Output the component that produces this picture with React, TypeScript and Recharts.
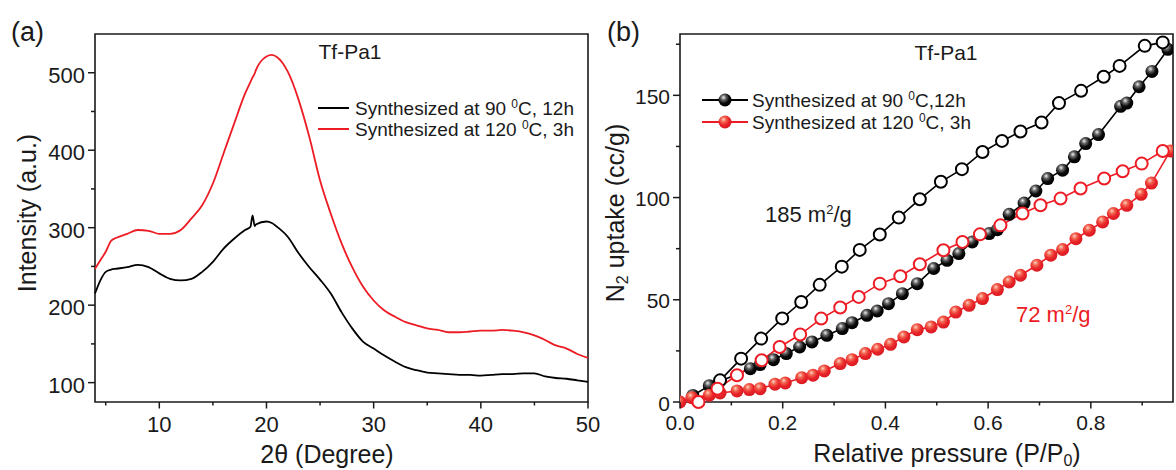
import React from "react";
import { LineChart, Line, XAxis, YAxis, ReferenceArea } from "recharts";

// (a) PXRD patterns of Tf-Pa1
const twoTheta = [
  4, 4.5, 5, 5.5, 6, 7, 8, 9, 10, 11, 12, 13, 14, 15, 16, 17, 18, 18.5, 18.7, 18.9, 19, 20, 20.5, 21, 22,
  23, 24, 25, 26, 27, 28, 29, 30, 31, 32, 33, 34, 35, 36, 37, 38, 39, 40, 41, 42, 43, 44, 45, 46, 47, 48,
  49, 50,
];
const xrd90 = [
  215, 232, 243, 246, 247, 249, 252, 249, 241, 234, 232, 234, 243, 256, 273, 286, 297, 301, 316, 302, 304,
  308, 306, 301, 288, 267, 249, 233, 215, 191, 170, 153, 144, 135, 127, 120, 116, 113, 112, 111, 110, 110,
  109, 110, 111, 111, 112, 112, 108, 106, 105, 103, 101,
];
const xrd120 = [
  247, 258, 269, 283, 287, 292, 297, 296, 292, 292, 297, 312, 329, 357, 396, 435, 473, 488, 494, 499, 503,
  521, 523, 520, 501, 465, 417, 361, 318, 280, 249, 224, 206, 193, 185, 178, 174, 170, 168, 165, 165, 166,
  167, 167, 168, 167, 165, 161, 155, 148, 144, 137, 132,
];
const xrdXTicks = [5, 10, 15, 20, 25, 30, 35, 40, 45, 50];
const xrdYTicks = [100, 150, 200, 250, 300, 350, 400, 450, 500];

// (b) N2 sorption isotherms, adsorption (filled) and desorption (open)
const ads90P = [
  0.025, 0.057, 0.137, 0.156, 0.182, 0.207, 0.233, 0.257, 0.286, 0.316, 0.335, 0.364, 0.384, 0.406, 0.433,
  0.462, 0.494, 0.52, 0.543, 0.569, 0.602, 0.618, 0.641, 0.67, 0.693, 0.716, 0.745, 0.768, 0.79, 0.815, 0.858,
  0.87, 0.894, 0.919, 0.95,
];
const ads90N = [
  3.2, 8.0, 16.3, 18.3, 20.7, 23.7, 26.9, 29.4, 32.6, 35.9, 38.8, 42.4, 44.5, 48.1, 53.0, 57.9, 65.3, 69.3,
  72.6, 78.3, 82.4, 84.3, 91.8, 97.3, 103.2, 109.3, 113.4, 119.9, 126.4, 130.8, 144.6, 146.2, 154.2, 161.7,
  172.5,
];
const des90P = [
  0.078, 0.119, 0.158, 0.199, 0.236, 0.272, 0.315, 0.35, 0.389, 0.426, 0.467, 0.508, 0.549, 0.589, 0.627,
  0.663, 0.704, 0.738, 0.781, 0.825, 0.856, 0.905, 0.94,
];
const des90N = [
  10.6, 21.2, 31.0, 40.9, 48.9, 57.3, 66.2, 74.4, 81.9, 90.2, 99.2, 107.7, 113.9, 122.3, 127.7, 132.3, 136.7,
  146.2, 152.2, 159.1, 164.4, 174.2, 175.9,
];
const ads120P = [
  0, 0.023, 0.057, 0.078, 0.111, 0.135, 0.156, 0.185, 0.205, 0.237, 0.259, 0.281, 0.312, 0.335, 0.361, 0.385,
  0.41, 0.436, 0.462, 0.489, 0.513, 0.537, 0.563, 0.589, 0.618, 0.641, 0.663, 0.695, 0.722, 0.745, 0.771,
  0.797, 0.823, 0.844, 0.87, 0.898, 0.918, 0.955,
];
const ads120N = [
  0, 2.1, 3.3, 4.4, 5.4, 6.1, 6.5, 8.7, 9.3, 11.9, 13.1, 15.2, 18.8, 20.7, 23.7, 25.8, 28.2, 31.8, 35.4, 36.7,
  39.1, 44.0, 47.3, 50.6, 55.0, 58.7, 62.0, 66.9, 71.8, 74.6, 79.9, 84.0, 88.1, 92.2, 96.2, 101.6, 107.1,
  122.8,
];
const des120P = [
  0.036, 0.073, 0.111, 0.159, 0.194, 0.234, 0.275, 0.312, 0.348, 0.389, 0.429, 0.467, 0.513, 0.55, 0.584,
  0.624, 0.667, 0.702, 0.741, 0.78, 0.826, 0.862, 0.899, 0.94,
];
const des120N = [
  0, 6.5, 13.1, 20.4, 26.9, 33.0, 40.8, 46.2, 51.4, 57.9, 61.5, 67.4, 74.2, 78.3, 82.0, 86.4, 92.2, 96.2,
  99.5, 104.4, 109.3, 112.9, 116.6, 122.8,
];
const isoXTicks = [0, 0.1, 0.2, 0.3, 0.4, 0.5, 0.6, 0.7, 0.8, 0.9];
const isoYTicks = [0, 25, 50, 75, 100, 125, 150, 175];

const FONT = "'Liberation Sans', Arial, sans-serif";
const RED = "#ed1c24";
const INK = "#1a1a1a";

const xrdData = twoTheta.map((t, i) => ({ t, a: xrd90[i], b: xrd120[i] }));
const pairs = (p: number[], n: number[]) => p.map((x, i) => ({ x, y: n[i] }));

// tick renderers: draw the tick mark ourselves so minor ticks can be shorter and unlabeled
const bottomTick =
  (isMajor: (v: number) => boolean, fmt: (v: number) => string, fontSize: number, dy: number) =>
  (props: any) => {
    const { x, y, payload } = props;
    const major = isMajor(payload.value);
    return (
      <g key={`xt-${payload.value}`}>
        <line x1={x} x2={x} y1={y} y2={y + (major ? 6.5 : 3.5)} stroke={INK} strokeWidth={1.5} />
        {major && (
          <text x={x} y={y + dy} textAnchor="middle" fontSize={fontSize} fontFamily={FONT} fill={INK}>
            {fmt(payload.value)}
          </text>
        )}
      </g>
    );
  };

const leftTick =
  (isMajor: (v: number) => boolean, fontSize: number, dy: number) =>
  (props: any) => {
    const { x, y, payload } = props;
    const major = isMajor(payload.value);
    return (
      <g key={`yt-${payload.value}`}>
        <line x1={x} x2={x - (major ? 7 : 4)} y1={y} y2={y} stroke={INK} strokeWidth={1.5} />
        {major && (
          <text x={x - 10} y={y + dy} textAnchor="end" fontSize={fontSize} fontFamily={FONT} fill={INK}>
            {payload.value}
          </text>
        )}
      </g>
    );
  };

const ball = (fill: string) => (p: any) =>
  <circle key={`d-${p.index}`} cx={p.cx} cy={p.cy} r={6.5} fill={fill} />;

const openDot = (stroke: string) => ({ r: 6, fill: "#fff", stroke, strokeWidth: 2 });

function XrdPanel() {
  return (
    <LineChart width={600} height={470} data={xrdData} margin={{ top: 34, right: 12, bottom: 28, left: 45 }}>
      <XAxis
        dataKey="t"
        type="number"
        domain={[4, 50]}
        ticks={xrdXTicks}
        interval={0}
        height={40}
        axisLine={false}
        tickLine={false}
        tickSize={0}
        tickMargin={0}
        tick={bottomTick((v) => v % 10 === 0, (v) => String(v), 22, 30)}
      />
      <YAxis
        type="number"
        domain={[75, 550]}
        ticks={xrdYTicks}
        interval={0}
        width={50}
        axisLine={false}
        tickLine={false}
        tickSize={0}
        tickMargin={0}
        tick={leftTick((v) => v % 100 === 0, 22, 10)}
      />
      <ReferenceArea x1={4} x2={50} y1={75} y2={550} fill="none" stroke={INK} strokeWidth={1.6} />
      <Line dataKey="a" stroke="#000" strokeWidth={1.8} dot={false} activeDot={false} type="monotone" isAnimationActive={false} />
      <Line dataKey="b" stroke={RED} strokeWidth={1.8} dot={false} activeDot={false} type="monotone" isAnimationActive={false} />
    </LineChart>
  );
}

function IsothermPanel() {
  return (
    <LineChart width={576} height={470} margin={{ top: 34, right: 3, bottom: 28, left: 30 }}>
      <XAxis
        dataKey="x"
        type="number"
        domain={[0, 0.96]}
        ticks={isoXTicks}
        interval={0}
        height={40}
        allowDataOverflow
        axisLine={false}
        tickLine={false}
        tickSize={0}
        tickMargin={0}
        tick={bottomTick((v) => Math.round(v * 10) % 2 === 0, (v) => v.toFixed(1), 21, 28)}
      />
      <YAxis
        type="number"
        domain={[0, 180]}
        ticks={isoYTicks}
        interval={0}
        width={50}
        axisLine={false}
        tickLine={false}
        tickSize={0}
        tickMargin={0}
        tick={leftTick((v) => v % 50 === 0, 21, 8.5)}
      />
      <ReferenceArea x1={0} x2={0.96} y1={0} y2={180} fill="none" stroke={INK} strokeWidth={1.6} />
      <Line data={pairs(ads90P, ads90N)} dataKey="y" stroke="#000" strokeWidth={1.6} dot={ball("url(#ballK)")} activeDot={false} isAnimationActive={false} />
      <Line data={pairs(des90P, des90N)} dataKey="y" stroke="#000" strokeWidth={1.6} dot={openDot("#000")} activeDot={false} isAnimationActive={false} />
      <Line data={pairs(ads120P, ads120N)} dataKey="y" stroke={RED} strokeWidth={1.6} dot={ball("url(#ballR)")} activeDot={false} isAnimationActive={false} />
      <Line data={pairs(des120P, des120N)} dataKey="y" stroke={RED} strokeWidth={1.6} dot={openDot(RED)} activeDot={false} isAnimationActive={false} />
    </LineChart>
  );
}

export default function App() {
  const txt = { fontFamily: FONT, fill: INK } as const;
  return (
    <div style={{ position: "absolute", left: 0, top: 0, width: 1176, height: 470, background: "#fff" }}>
      <div style={{ position: "absolute", left: 0, top: 0 }}>
        <XrdPanel />
      </div>
      <div style={{ position: "absolute", left: 600, top: 0 }}>
        <IsothermPanel />
      </div>
      <svg width={1176} height={470} style={{ position: "absolute", left: 0, top: 0, pointerEvents: "none" }}>
        <defs>
          <radialGradient id="ballK" cx="40%" cy="35%" r="65%" fx="38%" fy="30%">
            <stop offset="0" stopColor="#f2f2f2" />
            <stop offset="0.3" stopColor="#666" />
            <stop offset="0.65" stopColor="#0a0a0a" />
            <stop offset="1" stopColor="#000" />
          </radialGradient>
          <radialGradient id="ballR" cx="40%" cy="35%" r="65%" fx="38%" fy="30%">
            <stop offset="0" stopColor="#ffd2c8" />
            <stop offset="0.3" stopColor="#f26650" />
            <stop offset="0.65" stopColor="#e8242a" />
            <stop offset="1" stopColor="#d91a20" />
          </radialGradient>
        </defs>

        {/* panel (a) */}
        <text x={11} y={41} fontSize={27} {...txt}>(a)</text>
        <text x={350} y={59} fontSize={21} textAnchor="middle" {...txt}>Tf-Pa1</text>
        <line x1={318} x2={349} y1={108} y2={108} stroke="#000" strokeWidth={2} />
        <text x={355} y={115} fontSize={19} {...txt}>
          Synthesized at 90 <tspan dy={-7} fontSize={12}>0</tspan><tspan dy={7}>C, 12h</tspan>
        </text>
        <line x1={318} x2={349} y1={129} y2={129} stroke={RED} strokeWidth={2} />
        <text x={355} y={136} fontSize={19} {...txt}>
          Synthesized at 120 <tspan dy={-7} fontSize={12}>0</tspan><tspan dy={7}>C, 3h</tspan>
        </text>
        <text x={27} y={213} fontSize={25} textAnchor="middle" dominantBaseline="central" transform="rotate(-90 27 213)" {...txt}>
          Intensity (a.u.)
        </text>
        <text x={327} y={454} fontSize={25} textAnchor="middle" dominantBaseline="central" {...txt}>
          2θ (Degree)
        </text>

        {/* panel (b) */}
        <text x={607} y={41} fontSize={27} {...txt}>(b)</text>
        <text x={946} y={60} fontSize={21} textAnchor="middle" {...txt}>Tf-Pa1</text>
        <line x1={702} x2={748} y1={100} y2={100} stroke="#000" strokeWidth={1.8} />
        <circle cx={725} cy={100} r={6.5} fill="url(#ballK)" />
        <text x={752} y={107} fontSize={19} {...txt}>
          Synthesized at 90 <tspan dy={-7} fontSize={12}>0</tspan><tspan dy={7}>C,12h</tspan>
        </text>
        <line x1={702} x2={748} y1={122} y2={122} stroke={RED} strokeWidth={1.8} />
        <circle cx={725} cy={122} r={6.5} fill="url(#ballR)" />
        <text x={752} y={129} fontSize={19} {...txt}>
          Synthesized at 120 <tspan dy={-7} fontSize={12}>0</tspan><tspan dy={7}>C, 3h</tspan>
        </text>
        <text x={765} y={222} fontSize={22} {...txt}>
          185 m<tspan dy={-8} fontSize={13}>2</tspan><tspan dy={8}>/g</tspan>
        </text>
        <text x={1016} y={322} fontSize={22} fontFamily={FONT} fill={RED}>
          72 m<tspan dy={-8} fontSize={13}>2</tspan><tspan dy={8}>/g</tspan>
        </text>
        <text x={615} y={213} fontSize={25} textAnchor="middle" dominantBaseline="central" transform="rotate(-90 615 213)" {...txt}>
          N<tspan dy={7} fontSize={16}>2</tspan><tspan dy={-7}> uptake (cc/g)</tspan>
        </text>
        <text x={947} y={453} fontSize={25} textAnchor="middle" dominantBaseline="central" {...txt}>
          Relative pressure (P/P<tspan dy={7} fontSize={16}>0</tspan><tspan dy={-7}>)</tspan>
        </text>
      </svg>
    </div>
  );
}
